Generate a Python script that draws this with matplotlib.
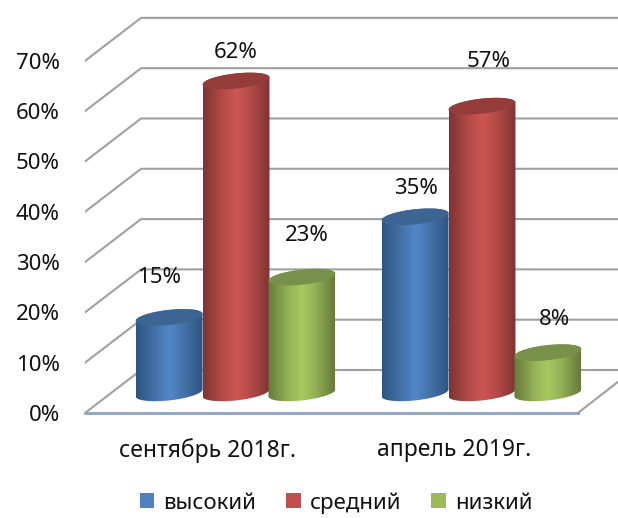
import numpy as np
import matplotlib
matplotlib.use("Agg")
import matplotlib.pyplot as plt
from matplotlib.colors import LinearSegmentedColormap
from matplotlib.patches import Patch, Polygon

plt.rcParams["font.family"] = ["Noto Sans", "DejaVu Sans"]

categories = ["сентябрь 2018г.", "апрель 2019г."]
series_names = ["высокий", "средний", "низкий"]
vysokiy = [15, 35]
sredniy = [62, 57]
nizkiy = [23, 8]
tick_values = [0, 10, 20, 30, 40, 50, 60, 70]

# edge, mid, light, flat colour for the top of each cylinder
styles = [
    ("#2f5480", "#4674aa", "#5287c8", "#3c6594", "#4f81bd"),
    ("#7e3432", "#b54c49", "#cd5552", "#943c3a", "#c0504d"),
    ("#667a3a", "#94b255", "#a6c95f", "#77904a", "#9bbb59"),
]
# hand placed data labels, pixels from the top of the bar
label_shift = [[(-10, 40), (1, 28)], [(0, 28), (7, 45)], [(5, 42), (7, 33)]]

BAR_W = 0.272
BASE = 4.0
DEPTH_X, DEPTH_Y = 0.228, 8.55
X_MIN, X_MAX = -0.614, 1.553
Y_MAX = 82.1


def ellipse(cx, cy, t):
    return cx + BAR_W / 2 * np.cos(t), cy + 1.5 * np.sin(t) + 0.7 * np.cos(t)


def cylinder(ax, cx, value, style, z):
    top = BASE + value
    t = np.linspace(np.pi, 2 * np.pi, 60)
    bx, by = ellipse(cx, BASE, t)
    tx, ty = ellipse(cx, top, t - np.pi)
    outline = np.r_[np.c_[bx, by], np.c_[tx, ty]]
    body = Polygon(outline, closed=True, fc="none", ec="none", transform=ax.transData)
    ax.add_patch(body)

    cmap = LinearSegmentedColormap.from_list(
        "cyl", [(0, style[0]), (0.3, style[1]), (0.5, style[2]), (0.7, style[1]), (1, style[0])]
    )
    grad = np.linspace(0, 1, 128).reshape(1, -1)
    im = ax.imshow(grad, cmap=cmap, aspect="auto", zorder=z,
                   extent=(cx - BAR_W / 2, cx + BAR_W / 2, BASE - 4, top + 4))
    im.set_clip_path(body)

    t = np.linspace(0, 2 * np.pi, 120)
    ex, ey = ellipse(cx, top, t)
    ax.add_patch(Polygon(np.c_[ex, ey], closed=True, fc=style[3], ec="none", zorder=z))


fig = plt.figure(figsize=(6.18, 5.18), dpi=100)
ax = fig.add_axes([85 / 618, 105 / 518, 533 / 618, 413 / 518])

# back wall and side wall grid
for v in tick_values:
    ax.plot([X_MIN, X_MIN + DEPTH_X, X_MAX], [v, v + DEPTH_Y, v + DEPTH_Y],
            color="#a0a0a0", lw=1.5, zorder=1, solid_joinstyle="miter")

# floor
floor_right = 1.39
ax.plot([floor_right, X_MAX], [0, 6.2], color="#a0a0a0", lw=1.5, zorder=1, clip_on=False)
ax.plot([X_MIN, floor_right], [0, 0], color="#8ea3bf", lw=2, zorder=2, clip_on=False)

offsets = [-0.272, 0, 0.268]
for s, vals in enumerate([vysokiy, sredniy, nizkiy]):
    for g, v in enumerate(vals):
        cx = g + offsets[s]
        cylinder(ax, cx, v, styles[s], 3 + s * 0.1)
        dx, dy = label_shift[s][g]
        ax.annotate(f"{v}%", xy=(cx, BASE + v), xytext=(dx, dy), textcoords="offset pixels",
                    ha="center", va="center", fontsize=16, color="#111111", zorder=5)

ax.set_xlim(X_MIN, X_MAX)
ax.set_ylim(0, Y_MAX)
ax.set_yticks(tick_values, [f"{v}%" for v in tick_values], fontsize=16, color="#111111")
ax.set_xticks([-0.114, 0.886], categories, fontsize=16.5, color="#111111")
ax.tick_params(axis="y", length=0, pad=18)
ax.tick_params(axis="x", length=0, pad=18)
for spine in ax.spines.values():
    spine.set_visible(False)
ax.patch.set_alpha(0)

handles = [Patch(fc=st[4], ec="none") for st in styles]
fig.legend(handles, series_names, loc="center", bbox_to_anchor=(336 / 618, 1 - 503 / 518),
           ncol=3, frameon=False, fontsize=16, handlelength=0.66, handleheight=0.66,
           handletextpad=0.4, columnspacing=1.35, labelcolor="#111111", borderpad=0)

fig.savefig("out.png", dpi=100)
